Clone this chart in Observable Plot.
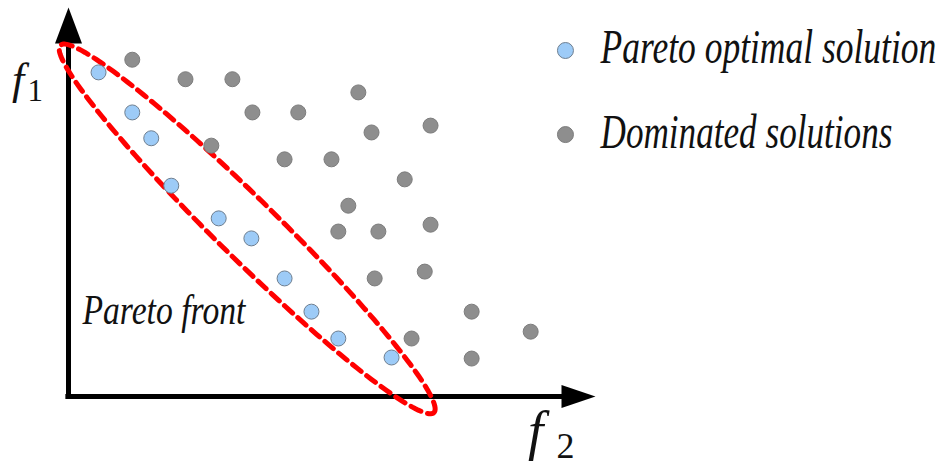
<!DOCTYPE html>
<html>
<head>
<meta charset="utf-8">
<script src="https://cdn.jsdelivr.net/npm/d3@7"></script>
<script src="https://cdn.jsdelivr.net/npm/@observablehq/plot@0.6"></script>
<style>
  html, body { margin: 0; padding: 0; background: #ffffff; }
  #chart svg { display: block; }
</style>
</head>
<body>
<div id="chart"></div>
<script>
// ---- data ----
const paretoF2 = [0.57, 1.21, 1.57, 1.95, 2.85, 3.47, 4.10, 4.61, 5.12, 6.13];
const paretoF1 = [6.15, 5.39, 4.90, 4.00, 3.38, 3.00, 2.24, 1.61, 1.10, 0.74];

const dominatedF2 = [1.21, 2.22, 3.11, 5.50, 3.49, 4.36, 5.75, 6.87, 2.71, 4.10, 4.99,
                     6.38, 5.31, 5.12, 5.88, 6.87, 5.81, 6.76, 7.65, 8.77, 6.51, 7.65];
const dominatedF1 = [6.39, 6.02, 6.02, 5.77, 5.39, 5.39, 5.01, 5.14, 4.76, 4.50, 4.50,
                     4.12, 3.62, 3.13, 3.13, 3.26, 2.24, 2.37, 1.61, 1.23, 1.10, 0.72];

const legendLabels = ["Pareto optimal solution", "Dominated solutions"];
const legendColors = ["#9dcbf7", "#8e8e8e"];

// Pareto-front ellipse: centre (f2, f1), semi-axes, rotation in degrees
const frontCenter = [3.39, 3.18];
const frontAxes = [4.97, 0.57];
const frontAngle = -44.5;

// ---- derived tables ----
const pareto = paretoF2.map((x, i) => ({x, y: paretoF1[i]}));
const dominated = dominatedF2.map((x, i) => ({x, y: dominatedF1[i]}));
const legend = legendLabels.map((label, i) => ({label, color: legendColors[i]}));

const a = frontAngle * Math.PI / 180;
const ellipse = d3.range(0, 360, 2).map(t => {
  const r = t * Math.PI / 180;
  const u = frontAxes[0] * Math.cos(r), v = frontAxes[1] * Math.sin(r);
  return {x: frontCenter[0] + u * Math.cos(a) - v * Math.sin(a),
          y: frontCenter[1] + u * Math.sin(a) + v * Math.cos(a)};
});

const upHead = {draw(ctx) { ctx.moveTo(0, 0); ctx.lineTo(-13.5, 36); ctx.lineTo(13.5, 36); ctx.closePath(); }};
const rightHead = {draw(ctx) { ctx.moveTo(0, 0); ctx.lineTo(-34, -11.5); ctx.lineTo(-34, 11.5); ctx.closePath(); }};

const serif = "'Liberation Serif', 'Times New Roman', serif";

const chart = Plot.plot({
  width: 939,
  height: 465,
  margin: 0,
  style: {background: "#ffffff"},
  x: {domain: [0, 10], range: [68, 595], axis: null},
  y: {domain: [0, 7.4], range: [396, 6], axis: null},
  marks: [
    // axes
    Plot.ruleY([0], {x1: -0.05, x2: 9.6, stroke: "#000", strokeWidth: 5}),
    Plot.ruleX([0], {y1: -0.05, y2: 6.8, stroke: "#000", strokeWidth: 5}),
    Plot.dot([0], {x: 0, y: 7.38, symbol: upHead, r: 10, fill: "#000", stroke: null}),
    Plot.dot([0], {x: 10, y: 0, symbol: rightHead, r: 10, fill: "#000", stroke: null}),
    // Pareto front outline
    Plot.line(ellipse, {x: "x", y: "y", curve: "linear-closed", stroke: "#ff0000",
      strokeWidth: 5, strokeDasharray: "11,7"}),
    // points
    Plot.dot(dominated, {x: "x", y: "y", r: 7.5, fill: legendColors[1], stroke: "#7d7d7d", strokeWidth: 1}),
    Plot.dot(pareto, {x: "x", y: "y", r: 7.5, fill: legendColors[0], stroke: "#6f7f90", strokeWidth: 1}),
    // legend
    Plot.dot(legend, {x: 9.43, y: (d, i) => i === 0 ? 6.565 : 4.97, r: 8, fill: "color",
      stroke: (d, i) => i === 0 ? "#6f7f90" : "#7d7d7d", strokeWidth: 1}),
    Plot.text(legend, {x: 10.095, y: (d, i) => i === 0 ? 6.63 : 5.02, text: "label",
      textAnchor: "start", fontSize: 49, fontStyle: "italic", fontFamily: serif, fill: "#111"}),
    // annotations
    Plot.text(["Pareto front"], {x: 0.265, y: 1.63, text: d => d, textAnchor: "start",
      fontSize: 42, fontStyle: "italic", fontFamily: serif, fill: "#111"}),
    Plot.text(["f"], {x: -1.07, y: 6.0, text: d => d, textAnchor: "start",
      fontSize: 44, fontStyle: "italic", fontFamily: serif, fill: "#111"}),
    Plot.text(["1"], {x: -0.78, y: 5.8, text: d => d, textAnchor: "start",
      fontSize: 31, fontFamily: serif, fill: "#111"}),
    Plot.text(["f"], {x: 8.72, y: -0.67, text: d => d, textAnchor: "start",
      fontSize: 55, fontStyle: "italic", fontFamily: serif, fill: "#111"}),
    Plot.text(["2"], {x: 9.26, y: -0.95, text: d => d, textAnchor: "start",
      fontSize: 36, fontFamily: serif, fill: "#111"})
  ]
});

document.getElementById("chart").appendChild(chart);

// squeeze the long labels horizontally to the widths seen in the picture
const widths = {"Pareto optimal solution": 336, "Dominated solutions": 292, "Pareto front": 163};
d3.select(chart).selectAll("text").each(function() {
  const w = widths[this.textContent];
  if (!w) return;
  const natural = this.getComputedTextLength();
  if (!natural) return;
  const sx = w / natural;
  const x = +this.getAttribute("x") || 0;
  const prev = this.getAttribute("transform") || "";
  this.setAttribute("transform", `${prev} translate(${x},0) scale(${sx},1) translate(${-x},0)`.trim());
});
</script>
</body>
</html>
